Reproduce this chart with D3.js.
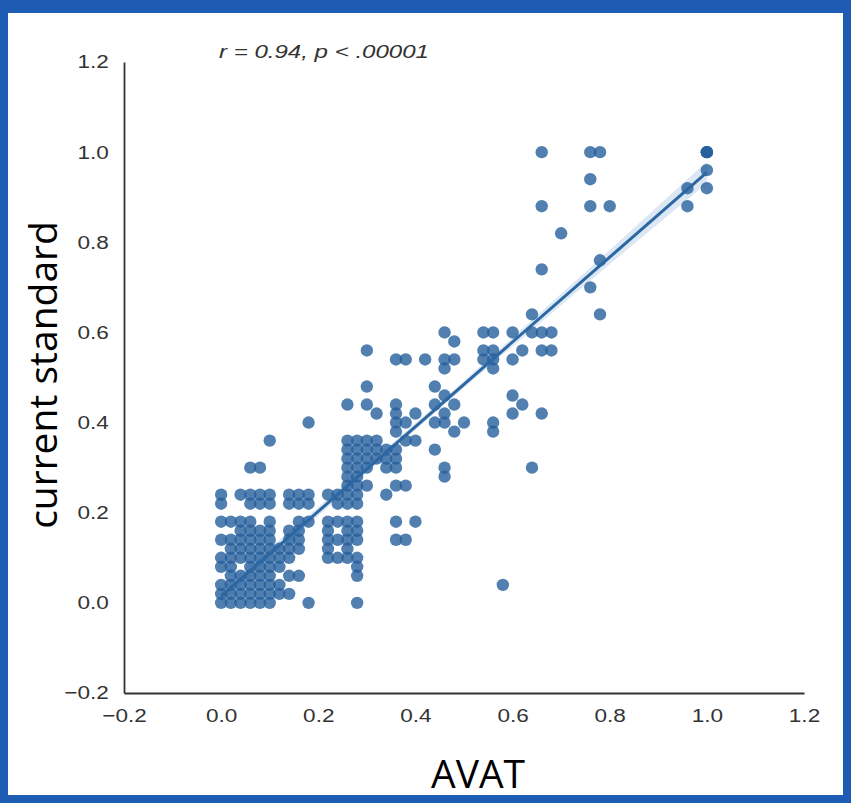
<!DOCTYPE html>
<html><head><meta charset="utf-8">
<script src="https://cdn.jsdelivr.net/npm/d3@7"></script>
<style>html,body{margin:0;padding:0;background:#fff;} svg{display:block}</style>
</head><body>
<svg id="chart" width="851" height="803"></svg>
<script>
// ---- data ----
const xTicks = [-0.2, 0.0, 0.2, 0.4, 0.6, 0.8, 1.0, 1.2];
const yTicks = [-0.2, 0.0, 0.2, 0.4, 0.6, 0.8, 1.0, 1.2];
const annotation = "r = 0.94, p < .00001";
const xLabel = "AVAT";
const yLabel = "current standard";

// "current standard" value of each row of points
const stdLevels = [
  1.00, 0.96, 0.94, 0.92, 0.88, 0.82, 0.76, 0.74, 0.70, 0.64,
  0.60, 0.58, 0.56, 0.54, 0.52, 0.48, 0.46, 0.44, 0.42, 0.40,
  0.38, 0.36, 0.34, 0.32, 0.30, 0.28, 0.26, 0.24, 0.22, 0.18,
  0.16, 0.14, 0.12, 0.10, 0.08, 0.06, 0.04, 0.02, 0.00
];
// AVAT values of the points in each row
const avatAtLevel = [
  [0.66, 0.76, 0.78, 1.00, 1.00, 1.00],
  [1.00],
  [0.76],
  [0.96, 1.00],
  [0.66, 0.76, 0.80, 0.96],
  [0.70],
  [0.78],
  [0.66],
  [0.76],
  [0.64, 0.78],
  [0.46, 0.54, 0.56, 0.60, 0.64, 0.66, 0.68],
  [0.48],
  [0.30, 0.54, 0.56, 0.62, 0.66, 0.68],
  [0.36, 0.38, 0.42, 0.46, 0.48, 0.54, 0.56, 0.60],
  [0.46, 0.56],
  [0.30, 0.44],
  [0.46, 0.60],
  [0.26, 0.30, 0.36, 0.44, 0.48, 0.62],
  [0.32, 0.36, 0.40, 0.46, 0.60, 0.66],
  [0.18, 0.36, 0.38, 0.44, 0.46, 0.50, 0.56],
  [0.36, 0.48, 0.56],
  [0.10, 0.26, 0.28, 0.30, 0.32, 0.38, 0.40],
  [0.26, 0.28, 0.30, 0.32, 0.34, 0.36, 0.44],
  [0.26, 0.28, 0.30, 0.32, 0.34, 0.36],
  [0.06, 0.08, 0.26, 0.28, 0.30, 0.34, 0.36, 0.46, 0.64],
  [0.26, 0.28, 0.46],
  [0.26, 0.28, 0.30, 0.36, 0.38],
  [0.00, 0.04, 0.06, 0.08, 0.10, 0.14, 0.16, 0.18, 0.22, 0.24, 0.26, 0.28, 0.34],
  [0.00, 0.06, 0.08, 0.10, 0.14, 0.16, 0.18, 0.24, 0.26, 0.28],
  [0.00, 0.02, 0.04, 0.06, 0.10, 0.16, 0.18, 0.22, 0.24, 0.26, 0.28, 0.36, 0.40],
  [0.04, 0.06, 0.08, 0.10, 0.14, 0.16, 0.22, 0.26, 0.28],
  [0.00, 0.02, 0.04, 0.06, 0.08, 0.10, 0.14, 0.16, 0.22, 0.24, 0.26, 0.28, 0.36, 0.38],
  [0.02, 0.04, 0.06, 0.08, 0.10, 0.12, 0.14, 0.16, 0.22, 0.26],
  [0.00, 0.02, 0.04, 0.06, 0.08, 0.10, 0.12, 0.14, 0.22, 0.24, 0.26, 0.28],
  [0.00, 0.02, 0.06, 0.08, 0.10, 0.12, 0.28],
  [0.02, 0.04, 0.06, 0.08, 0.10, 0.14, 0.16, 0.28],
  [0.00, 0.02, 0.04, 0.06, 0.08, 0.10, 0.12, 0.58],
  [0.00, 0.02, 0.04, 0.06, 0.08, 0.10, 0.12, 0.14],
  [0.00, 0.02, 0.04, 0.06, 0.08, 0.10, 0.18, 0.28]
];

// regression fit and its confidence band
const fitX = [0.0, 1.0];
const fitY = [0.015, 0.955];
const bandX = [0.0, 0.25, 0.5, 0.75, 1.0];
const bandHalf = [0.016, 0.009, 0.008, 0.014, 0.024];

// ---- drawing ----
const points = [];
stdLevels.forEach((s, i) => avatAtLevel[i].forEach(a => points.push({a, s})));

const svg = d3.select("#chart");
const W = 851, H = 803;
const BLUE = "#1e5bb3";

svg.append("rect").attr("width", W).attr("height", H).attr("fill", "#fff");

const x = d3.scaleLinear().domain([-0.2, 1.2]).range([124, 804]);
const y = d3.scaleLinear().domain([-0.2, 1.2]).range([693, 62]);
const fmt = d3.format(".1f");

// confidence band
const fitLine = d3.scaleLinear().domain(fitX).range(fitY);
const bandData = bandX.map((bx, i) => ({bx, lo: fitLine(bx) - bandHalf[i], hi: fitLine(bx) + bandHalf[i]}));
svg.append("path")
  .datum(bandData)
  .attr("d", d3.area().x(d => x(d.bx)).y0(d => y(d.lo)).y1(d => y(d.hi)).curve(d3.curveMonotoneX))
  .attr("fill", "#3a78bd").attr("fill-opacity", 0.18);

// points
svg.append("g").selectAll("circle").data(points).join("circle")
  .attr("cx", d => x(d.a)).attr("cy", d => y(d.s)).attr("r", 6.2)
  .attr("fill", "#255f9c").attr("fill-opacity", 0.8);

// regression line
svg.append("path")
  .datum(fitX.map((fx, i) => [fx, fitY[i]]))
  .attr("d", d3.line().x(d => x(d[0])).y(d => y(d[1])))
  .attr("stroke", "#2c67a2").attr("stroke-width", 3).attr("fill", "none");

// axes
const xAxis = svg.append("g").attr("transform", "translate(0,693)")
  .call(d3.axisBottom(x).tickValues(xTicks).tickFormat(fmt).tickSize(0).tickPadding(16));
const yAxis = svg.append("g").attr("transform", "translate(124,0)")
  .call(d3.axisLeft(y).tickValues(yTicks).tickFormat(fmt).tickSize(0).tickPadding(12.5));
[xAxis, yAxis].forEach(g => {
  g.select(".domain").attr("stroke", "#333").attr("stroke-width", 1.8);
  g.selectAll("text").attr("font-family", "'Liberation Sans', Arial, sans-serif")
    .attr("font-size", 18.5).attr("fill", "#333").attr("transform", "scale(1.22,1)");
});

// annotation
svg.append("text").attr("x", 219).attr("y", 58)
  .attr("font-family", "'Liberation Sans', Arial, sans-serif").attr("font-style", "italic")
  .attr("font-size", 18).attr("fill", "#333")
  .attr("textLength", 210).attr("lengthAdjust", "spacingAndGlyphs")
  .text(annotation);

// axis titles
svg.append("text").attr("x", 478).attr("y", 788).attr("text-anchor", "middle")
  .attr("font-family", "'Open Sans', sans-serif").attr("font-size", 39).attr("fill", "#000")
  .text(xLabel);
svg.append("text").attr("transform", "translate(57,375) rotate(-90)").attr("text-anchor", "middle")
  .attr("font-family", "'Open Sans', sans-serif").attr("font-size", 39).attr("fill", "#000")
  .text(yLabel);

// blue frame
const frame = svg.append("g").attr("fill", BLUE);
frame.append("rect").attr("x", 0).attr("y", 0).attr("width", W).attr("height", 13);
frame.append("rect").attr("x", 0).attr("y", H - 8).attr("width", W).attr("height", 8);
frame.append("rect").attr("x", 0).attr("y", 0).attr("width", 8).attr("height", H);
frame.append("rect").attr("x", W - 8).attr("y", 0).attr("width", 8).attr("height", H);
</script>
</body></html>
